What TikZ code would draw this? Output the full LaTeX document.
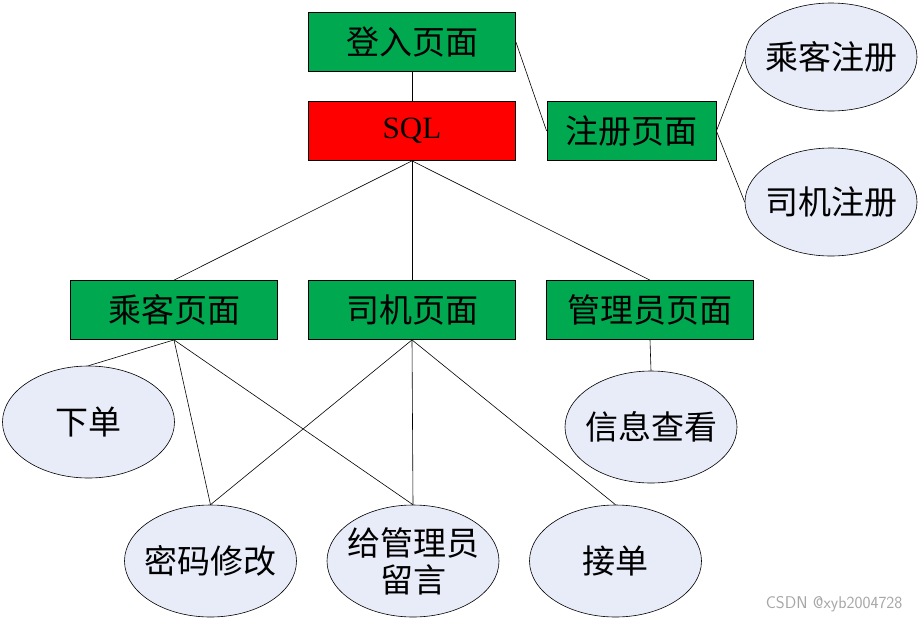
\documentclass[tikz,border=0pt]{standalone}
\usepackage{fontspec}
\setmainfont{Liberation Serif}
\newfontfamily\cjk{Noto Sans CJK SC}
\usetikzlibrary{shapes.geometric}
\definecolor{boxgreen}{RGB}{0,168,80}
\definecolor{boxred}{RGB}{255,0,0}
\definecolor{ellfill}{RGB}{232,236,248}
\tikzset{
  pagebox/.style={draw=black, line width=0.8pt, fill=boxgreen, minimum width=207pt, minimum height=59pt, inner sep=0pt, font=\cjk\fontsize{33}{38}\selectfont},
  smallbox/.style={pagebox, minimum width=169pt},
  sqlbox/.style={pagebox, fill=boxred, font=\fontsize{31}{36}\selectfont},
  func/.style={ellipse, draw=black, line width=0.6pt, fill=ellfill, minimum width=172pt, minimum height=112pt, inner xsep=-8pt, inner ysep=0pt, align=center, font=\cjk\fontsize{33}{37}\selectfont},
  link/.style={draw=black, line width=0.6pt}
}
\begin{document}
\begin{tikzpicture}[x=1pt,y=-1pt]
\useasboundingbox (0,0) rectangle (921,622);
\node[pagebox] (login) at (412,42) {登入页面};
\node[sqlbox] (sql) at (412,131) {SQL};
\node[smallbox] (reg) at (631.5,131) {注册页面};
\node[func, minimum height=108pt] (preg) at (831,57) {乘客注册};
\node[func, minimum height=108pt] (dreg) at (831,202) {司机注册};
\node[pagebox] (ppage) at (174,310) {乘客页面};
\node[pagebox] (dpage) at (412,310) {司机页面};
\node[pagebox] (apage) at (650,310) {管理员页面};
\node[func] (order) at (88.5,422) {下单};
\node[func] (info) at (651,427) {信息查看};
\node[func] (pwd) at (210.5,561) {密码修改};
\node[func] (msg) at (413,561) {给管理员\\留言};
\node[func] (take) at (615.5,561) {接单};
\node[text=gray!70, font=\sffamily\fontsize{17}{20}\selectfont, anchor=east] (mark) at (906,604) {CSDN @xyb2004728};
\draw[link] (login) -- (sql);
\draw[link] (login.east) -- (reg.west);
\draw[link] (reg.east) -- (preg.west);
\draw[link] (reg.east) -- (dreg.west);
\draw[link] (sql.south) -- (ppage.north);
\draw[link] (sql.south) -- (dpage.north);
\draw[link] (sql.south) -- (apage.north);
\draw[link] (ppage.south) -- (order.north);
\draw[link] (ppage.south) -- (pwd.north);
\draw[link] (ppage.south) -- (msg.north);
\draw[link] (dpage.south) -- (pwd.north);
\draw[link] (dpage.south) -- (msg.north);
\draw[link] (dpage.south) -- (take.north);
\draw[link] (apage.south) -- (info.north);
\end{tikzpicture}
\end{document}
